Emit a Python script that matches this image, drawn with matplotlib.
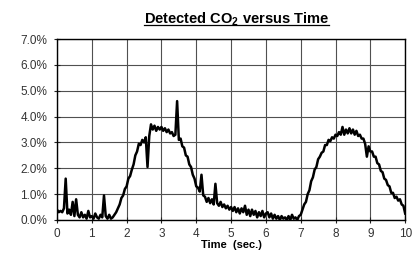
import numpy as np
import matplotlib
matplotlib.use("Agg")
import matplotlib.pyplot as plt
from matplotlib.ticker import PercentFormatter
from matplotlib.lines import Line2D

plt.rcParams['font.family'] = ['Liberation Sans', 'DejaVu Sans']
plt.rcParams['mathtext.default'] = 'regular'

# detected CO2 (%), sampled every 0.05 s from 0 to 10 s
step = 0.05
co2 = [
    # 0 - 0.95
    0.40, 0.30, 0.35, 0.30, 0.45, 1.60, 0.25, 0.40, 0.20, 0.70,
    0.15, 0.80, 0.20, 0.10, 0.30, 0.10, 0.20, 0.05, 0.35, 0.10,
    # 1 - 1.95
    0.15, 0.05, 0.25, 0.10, 0.05, 0.20, 0.10, 0.95, 0.15, 0.05,
    0.20, 0.05, 0.10, 0.20, 0.30, 0.45, 0.60, 0.85, 0.95, 1.20,
    # 2 - 2.95
    1.30, 1.60, 1.70, 1.95, 2.15, 2.50, 2.65, 2.95, 2.90, 3.10,
    3.00, 3.20, 2.05, 3.25, 3.70, 3.50, 3.65, 3.45, 3.60, 3.50,
    # 3 - 3.95
    3.60, 3.45, 3.55, 3.40, 3.50, 3.35, 3.40, 3.25, 3.30, 4.60,
    3.10, 3.15, 2.85, 2.80, 2.50, 2.45, 2.15, 2.05, 1.75, 1.60,
    # 4 - 4.95
    1.30, 1.25, 1.10, 1.75, 0.95, 0.90, 0.70, 0.85, 0.65, 0.80,
    0.60, 1.40, 0.65, 0.55, 0.70, 0.50, 0.60, 0.45, 0.55, 0.40,
    # 5 - 5.95
    0.50, 0.35, 0.50, 0.30, 0.45, 0.25, 0.45, 0.30, 0.55, 0.20,
    0.40, 0.15, 0.40, 0.20, 0.35, 0.10, 0.30, 0.15, 0.35, 0.10,
    # 6 - 6.95
    0.25, 0.30, 0.10, 0.25, 0.05, 0.20, 0.05, 0.15, 0.00, 0.15,
    0.05, 0.10, 0.00, 0.15, 0.00, 0.20, 0.05, 0.10, 0.00, 0.15,
    # 7 - 7.95
    0.20, 0.40, 0.60, 0.70, 1.00, 1.15, 1.50, 1.65, 1.95, 2.05,
    2.35, 2.45, 2.60, 2.65, 2.90, 2.90, 3.10, 3.05, 3.20, 3.15,
    # 8 - 8.95
    3.30, 3.25, 3.40, 3.30, 3.60, 3.30, 3.50, 3.35, 3.55, 3.35,
    3.50, 3.30, 3.45, 3.25, 3.30, 3.15, 3.15, 2.95, 2.45, 2.85,
    # 9 - 10
    2.65, 2.65, 2.45, 2.45, 2.20, 2.15, 1.90, 1.85, 1.60, 1.55,
    1.35, 1.30, 1.05, 1.05, 0.85, 0.90, 0.75, 0.80, 0.60, 0.55,
    0.25,
]
time = np.arange(len(co2)) * step

x_ticks = list(range(0, 11))
y_ticks = [0, 1, 2, 3, 4, 5, 6, 7]

fig = plt.figure(figsize=(4.19, 2.54), dpi=100)
ax = fig.add_axes([0.136, 0.134, 0.831, 0.712])

ax.plot(time, co2, color='black', lw=1.8)

ax.set_xlim(0, 10)
ax.set_ylim(0, 7)
ax.set_xticks(x_ticks)
ax.set_yticks(y_ticks)
ax.yaxis.set_major_formatter(PercentFormatter(decimals=1))
ax.grid(True, color='#505050', lw=0.8)
ax.set_axisbelow(True)
for s in ax.spines.values():
    s.set_linewidth(1.0)
ax.tick_params(direction='inout', length=4, labelsize=8.5, colors='#222222',
               labelcolor='#333333')
ax.tick_params(axis='y', pad=5)
ax.tick_params(axis='x', pad=4)

ax.set_xlabel('Time  (sec.)', fontsize=8, fontweight='bold', labelpad=0)

title = fig.text(0.564, 0.909, r'Detected CO$_{2}$ versus Time', ha='center',
                 va='baseline', fontsize=10.5, fontweight='bold')

# underline the title
fig.canvas.draw()
bb = title.get_window_extent().transformed(fig.transFigure.inverted())
fig.add_artist(Line2D([bb.x0, bb.x1], [0.9, 0.9], color='black', lw=0.9,
                      transform=fig.transFigure))

fig.savefig('out.png', dpi=100)
